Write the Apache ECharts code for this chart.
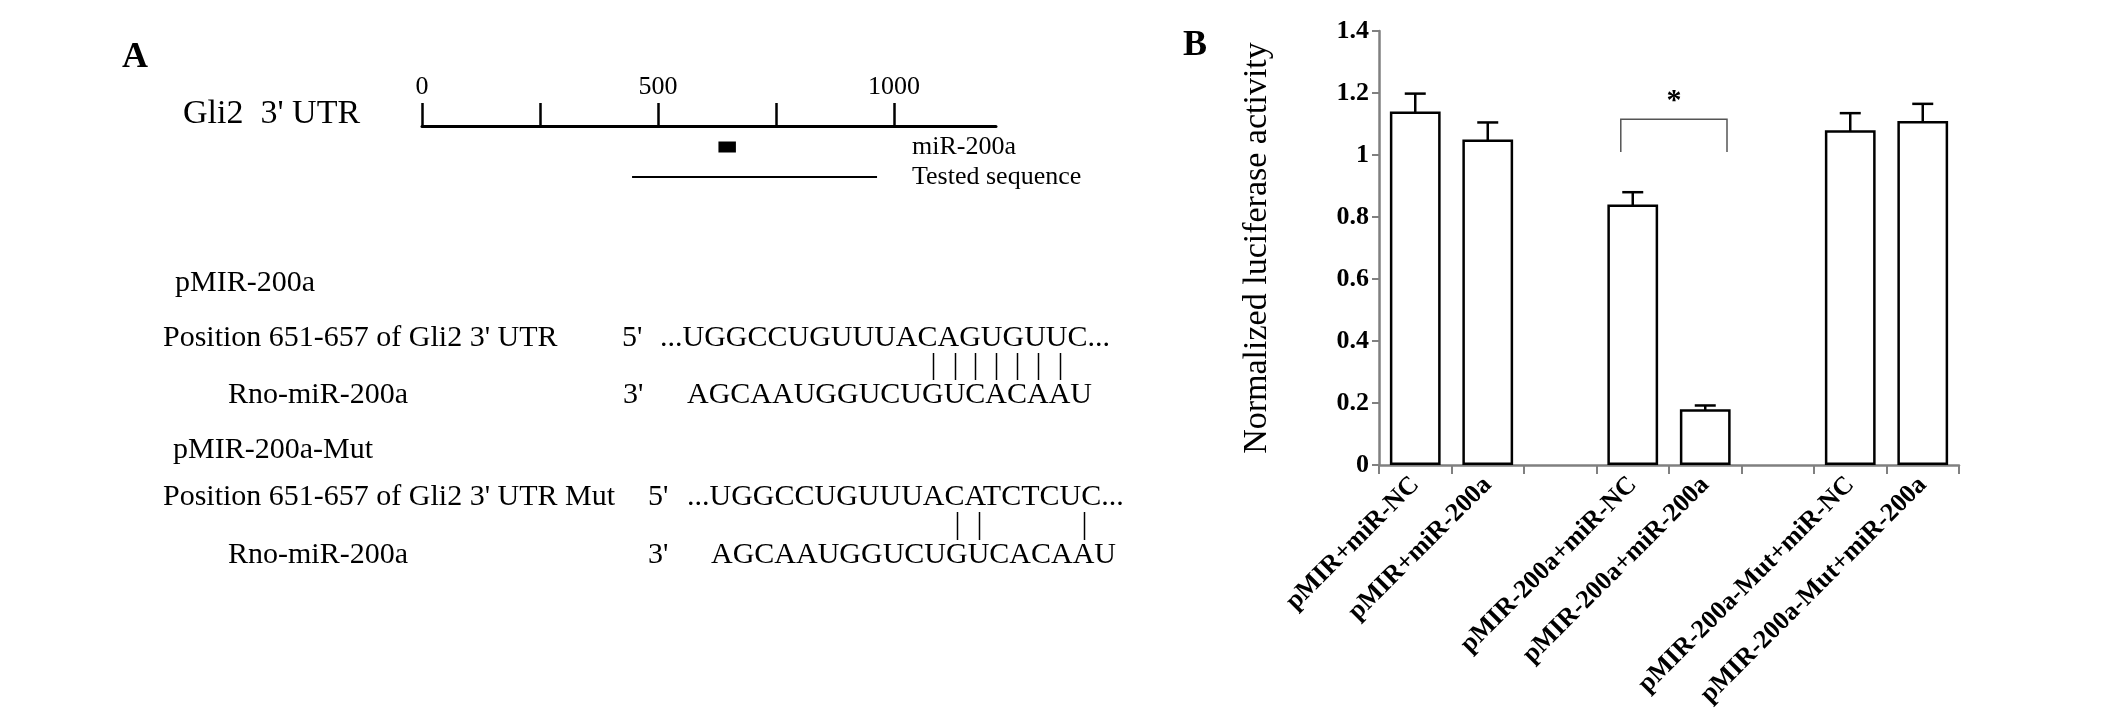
<!DOCTYPE html>
<html>
<head>
<meta charset="utf-8">
<script src="https://cdn.jsdelivr.net/npm/echarts@6/dist/echarts.min.js"></script>
<style>
html, body { margin: 0; padding: 0; background: #fff; }
#chart { width: 2126px; height: 716px; }
</style>
</head>
<body>
<div id="chart"></div>
<script>
// ---- panel B: luciferase assay ----
const categories = ['pMIR+miR-NC', 'pMIR+miR-200a', '', 'pMIR-200a+miR-NC', 'pMIR-200a+miR-200a', '', 'pMIR-200a-Mut+miR-NC', 'pMIR-200a-Mut+miR-200a'];
const activity = [1.14, 1.05, null, 0.84, 0.18, null, 1.08, 1.11];
const activityErr = [0.058, 0.055, null, 0.04, 0.012, null, 0.055, 0.055];
// [from category, to category, bracket top, bracket foot, star]
const signif = [[3, 4, 1.115, 1.01, 1.172]];

// ---- panel A: Gli2 3'UTR map ----
const utrLength = 1216;
const utrTicks = [0, 250, 500, 750, 1000];
const utrLabels = [0, 500, 1000];
const utrRows = ['miR-200a', 'Tested sequence'];
const mirSite = [628, 665];
const testedSeq = [445, 964];

// ---- panel A: seed alignment ----
const wtTarget = '...UGGCCUGUUUACAGUGUUC...';
const mutTarget = '...UGGCCUGUUUACATCTCUC...';
const mirSeq = 'AGCAAUGGUCUGUCACAAU';
const wtPairs = [11, 12, 13, 14, 15, 16, 17];
const mutPairs = [11, 12, 17];

const serif = '"Liberation Serif", "Times New Roman", serif';

const errData = [];
activity.forEach(function (v, i) {
  if (v != null) errData.push([i, v - activityErr[i], v + activityErr[i]]);
});

function txt(x, y, text, size, bold) {
  return {
    type: 'text', x: x, y: y, silent: true,
    style: { text: text, fill: '#000', font: (bold ? 'bold ' : '') + size + 'px ' + serif, align: 'left', verticalAlign: 'middle' }
  };
}

// pairing bars sit under the paired miRNA letters
const ctx = document.createElement('canvas').getContext('2d');
ctx.font = '30px ' + serif;
function charCenter(x0, seq, i) {
  return x0 + ctx.measureText(seq.slice(0, i)).width + ctx.measureText(seq[i]).width / 2;
}
function pairBars(x0, idx, y1, y2) {
  return idx.map(function (i) {
    const x = Math.round(charCenter(x0, mirSeq, i)) + 0.5;
    return { type: 'line', silent: true, shape: { x1: x, y1: y1, x2: x, y2: y2 }, style: { stroke: '#000', lineWidth: 1.5 } };
  });
}

const graphics = [
  txt(122, 58, 'A', 36, true),
  txt(1183, 46, 'B', 36, true),
  txt(183, 114, 'Gli2  3\' UTR', 34),
  txt(175, 283, 'pMIR-200a', 30),
  txt(163, 338, 'Position 651-657 of Gli2 3\' UTR', 30),
  txt(622, 338, '5\'', 30),
  txt(660, 338, wtTarget, 30),
  txt(228, 395, 'Rno-miR-200a', 30),
  txt(623, 395, '3\'', 30),
  txt(687, 395, mirSeq, 30),
  txt(173, 450, 'pMIR-200a-Mut', 30),
  txt(163, 497, 'Position 651-657 of Gli2 3\' UTR Mut', 30),
  txt(648, 497, '5\'', 30),
  txt(687, 497, mutTarget, 30),
  txt(228, 555, 'Rno-miR-200a', 30),
  txt(648, 555, '3\'', 30),
  txt(711, 555, mirSeq, 30)
].concat(pairBars(687, wtPairs, 353, 380), pairBars(711, mutPairs, 512, 540));

const chart = echarts.init(document.getElementById('chart'));
chart.setOption({
  backgroundColor: '#fff',
  animation: false,
  graphic: graphics,
  grid: [
    { left: 422, top: 132, width: 574, height: 60, outerBoundsMode: 'none' },
    { left: 1379, right: 167, top: 31, bottom: 251, outerBoundsMode: 'none' }
  ],
  xAxis: [
    {
      gridIndex: 0, type: 'value', min: 0, max: utrLength, position: 'top', offset: 6,
      axisLine: { show: true, lineStyle: { color: '#000', width: 3 } },
      axisTick: { show: true, customValues: utrTicks, length: 23, lineStyle: { color: '#000', width: 2.5 } },
      axisLabel: {
        customValues: utrLabels, margin: 26, color: '#000', fontSize: 26, fontFamily: serif,
        formatter: function (v) { return String(v); }
      },
      splitLine: { show: false }
    },
    {
      gridIndex: 1, type: 'category', data: categories,
      axisLine: { show: true, lineStyle: { color: '#808080', width: 2.5 } },
      axisTick: { show: true, interval: 0, alignWithLabel: false, length: 9, lineStyle: { color: '#808080', width: 2 } },
      axisLabel: { interval: 0, rotate: 45, margin: 16, color: '#000', fontSize: 26, fontWeight: 'bold', fontFamily: serif },
      splitLine: { show: false }
    }
  ],
  yAxis: [
    {
      gridIndex: 0, type: 'category', data: utrRows, inverse: true, position: 'right', offset: -84,
      axisLine: { show: false }, axisTick: { show: false },
      axisLabel: { interval: 0, hideOverlap: false, margin: 0, color: '#000', fontSize: 26, fontFamily: serif, align: 'left' },
      splitLine: { show: false }
    },
    {
      gridIndex: 1, type: 'value', min: 0, max: 1.4, interval: 0.2,
      name: 'Normalized luciferase activity', nameLocation: 'middle', nameGap: 105,
      nameTextStyle: { color: '#000', fontSize: 34, fontFamily: serif },
      axisLine: { show: true, lineStyle: { color: '#808080', width: 2.5 } },
      axisTick: { show: true, length: 7, lineStyle: { color: '#808080', width: 2 } },
      axisLabel: { margin: 10, color: '#000', fontSize: 26, fontWeight: 'bold', fontFamily: serif },
      splitLine: { show: false }
    }
  ],
  series: [
    {
      type: 'custom', xAxisIndex: 0, yAxisIndex: 0, silent: true,
      data: [[mirSite[0], mirSite[1], 0]],
      encode: { x: [0, 1], y: 2 },
      renderItem: function (params, api) {
        const a = api.coord([api.value(0), api.value(2)]);
        const b = api.coord([api.value(1), api.value(2)]);
        const h = 11;
        return { type: 'rect', shape: { x: a[0], y: a[1] - h / 2, width: b[0] - a[0], height: h }, style: { fill: '#000' } };
      }
    },
    {
      type: 'line', xAxisIndex: 0, yAxisIndex: 0, silent: true, symbol: 'none',
      data: [[testedSeq[0], utrRows[1]], [testedSeq[1], utrRows[1]]],
      lineStyle: { color: '#000', width: 2 }
    },
    {
      type: 'bar', xAxisIndex: 1, yAxisIndex: 1, data: activity, barWidth: '70%', silent: true,
      itemStyle: { color: '#fff', borderColor: '#000', borderWidth: 2.5 }
    },
    {
      type: 'custom', xAxisIndex: 1, yAxisIndex: 1, silent: true, data: errData,
      encode: { x: 0, y: [1, 2] },
      renderItem: function (params, api) {
        const lo = api.coord([api.value(0), api.value(1)]);
        const hi = api.coord([api.value(0), api.value(2)]);
        const cap = 10.5;
        const st = { stroke: '#000', lineWidth: 2.5 };
        return {
          type: 'group', children: [
            { type: 'line', shape: { x1: lo[0], y1: lo[1], x2: hi[0], y2: hi[1] }, style: st },
            { type: 'line', shape: { x1: lo[0] - cap, y1: lo[1], x2: lo[0] + cap, y2: lo[1] }, style: st },
            { type: 'line', shape: { x1: hi[0] - cap, y1: hi[1], x2: hi[0] + cap, y2: hi[1] }, style: st }
          ]
        };
      }
    },
    {
      type: 'custom', xAxisIndex: 1, yAxisIndex: 1, silent: true, data: signif,
      encode: { x: [0, 1], y: [2, 3] },
      renderItem: function (params, api) {
        const band = api.size([1, 0])[0];
        const p1 = api.coord([api.value(0), api.value(2)]);
        const p2 = api.coord([api.value(1), api.value(2)]);
        const foot = api.coord([api.value(0), api.value(3)])[1];
        const star = api.coord([api.value(0), api.value(4)])[1];
        const xl = p1[0] - 0.165 * band;
        const xr = p2[0] + 0.30 * band;
        return {
          type: 'group', children: [
            { type: 'polyline', shape: { points: [[xl, foot], [xl, p1[1]], [xr, p1[1]], [xr, foot]] }, style: { stroke: '#555', lineWidth: 1.5, fill: null } },
            { type: 'text', x: (xl + xr) / 2, y: star, style: { text: '*', font: 'bold 30px ' + serif, fill: '#000', align: 'center', verticalAlign: 'middle' } }
          ]
        };
      }
    }
  ]
});
</script>
</body>
</html>
